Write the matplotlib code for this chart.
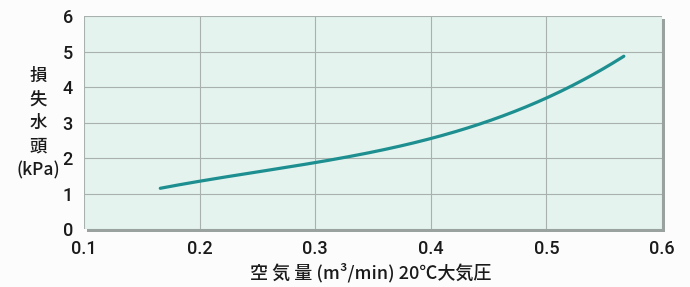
import matplotlib
matplotlib.use("Agg")
import matplotlib.pyplot as plt
import matplotlib.patheffects as pe
import numpy as np

plt.rcParams['font.family'] = ['Noto Sans CJK JP', 'DejaVu Sans']

# data
flow = [0.166, 0.20, 0.25, 0.30, 0.35, 0.40, 0.45, 0.50, 0.53, 0.567]
head = [1.19, 1.31, 1.56, 1.87, 2.22, 2.60, 3.03, 3.65, 4.12, 4.92]
xticks = [0.1, 0.2, 0.3, 0.4, 0.5, 0.6]
xticklabels = ["0.1", "0.2", "0.3", "0.4", "0.5", "0.6"]
yticks = [0, 1, 2, 3, 4, 5, 6]

fig = plt.figure(figsize=(6.9, 2.87), dpi=100)
fig.patch.set_facecolor("#fbfcfb")
ax = fig.add_axes([0.1217, 0.202, 0.8377, 0.742])
ax.set_facecolor("#e4f3ee")
ax.patch.set_path_effects([pe.SimplePatchShadow(offset=(2, -2), shadow_rgbFace="#8f9894", alpha=0.9), pe.Normal()])

# smooth curve through the read points
xs = np.linspace(flow[0], flow[-1], 200)
coef = np.polyfit(flow, head, 3)
ys = np.polyval(coef, xs)
ax.plot(xs, ys, color="#1e8f90", lw=2.3, solid_capstyle="round", zorder=3)

ax.set_xlim(0.1, 0.6)
ax.set_ylim(0, 6)
ax.set_xticks(xticks)
ax.set_xticklabels(xticklabels)
ax.set_yticks(yticks)
ax.grid(True, color="#a9b1ae", lw=0.8)
ax.set_axisbelow(True)
for s in ax.spines.values():
    s.set_visible(False)
ax.tick_params(length=0, labelsize=13, colors="#1a1a1a", pad=8)
for lab in ax.get_xticklabels() + ax.get_yticklabels():
    lab.set_family(['Roboto', 'DejaVu Sans'])
    lab.set_fontweight('medium')

fig.text(0.055, 0.57, "損\n失\n水\n頭\n(kPa)", ha="center", va="center",
         fontsize=12.5, linespacing=1.4, color="#1a1a1a", fontweight="medium")
fig.text(0.537, 0.05, "空 気 量 (m³/min) 20℃大気圧", ha="center", va="center",
         fontsize=13, color="#1a1a1a", fontweight="medium")

fig.savefig("out.png", dpi=100, facecolor=fig.get_facecolor())
